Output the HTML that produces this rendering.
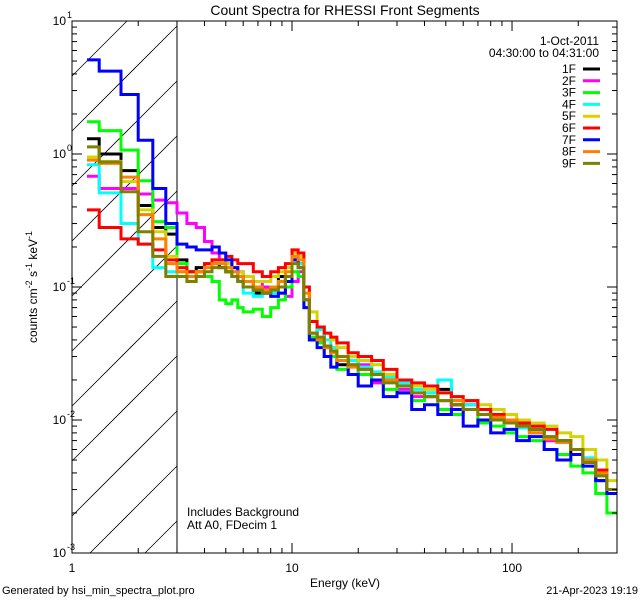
<!DOCTYPE html>
<html><head><meta charset="utf-8"><style>
html,body{margin:0;padding:0;width:640px;height:600px;overflow:hidden;background:#fff}
svg{display:block;font-family:"Liberation Sans",sans-serif}
</style></head><body>
<svg id="c" width="640" height="600" viewBox="0 0 640 600">
<defs><clipPath id="pc"><rect x="72" y="21" width="545" height="532"/></clipPath></defs>
<g id="hatch"></g>
<line x1="177" y1="21" x2="177" y2="553" stroke="#000" stroke-width="1"/>
<g id="series" clip-path="url(#pc)"></g>
<rect x="72" y="21" width="545" height="532" fill="none" stroke="#000"/>
<g id="axes"></g>
<text x="345" y="15" font-size="14" text-anchor="middle">Count Spectra for RHESSI Front Segments</text>
<text x="345" y="587" font-size="12" text-anchor="middle">Energy (keV)</text>
<text transform="translate(37,287) rotate(-90)" font-size="12" text-anchor="middle">counts cm<tspan dy="-5" font-size="9">-2</tspan><tspan dy="5"> s</tspan><tspan dy="-5" font-size="9">-1</tspan><tspan dy="5"> keV</tspan><tspan dy="-5" font-size="9">-1</tspan></text>
<text x="2" y="594" font-size="11">Generated by hsi_min_spectra_plot.pro</text>
<text x="638" y="594" font-size="11" text-anchor="end">21-Apr-2023 19:19</text>
<text x="187" y="516" font-size="12">Includes Background</text>
<text x="187" y="529" font-size="12">Att A0, FDecim 1</text>
<text x="599" y="45" font-size="12" text-anchor="end">1-Oct-2011</text>
<text x="599" y="57" font-size="12" text-anchor="end">04:30:00 to 04:31:00</text>
<g id="legend"></g>
</svg>
<script>
const edges=[1.17,1.33,1.67,2,2.33,2.67,3,3.33,3.67,4,4.33,4.67,5,5.33,5.67,6,6.67,7.33,8,8.67,9.33,10,10.67,11.33,12,13,14,15,16,18,20,23,26,30,35,40,46,53,60,70,80,92,105,120,140,160,185,210,240,270,300];
const names=["1F","2F","3F","4F","5F","6F","7F","8F","9F"];
const colors=["#000000","#ff00ff","#00ff00","#00ffff","#d4d400","#ff0000","#0000ff","#ff8000","#808000"];
const s1=[1.3,1.0,0.75,0.41,0.28,0.25,0.16,0.13,0.14,0.15,0.15,0.14,0.13,0.12,0.11,0.10,0.09,0.09,0.10,0.12,0.12,0.16,0.15,0.08,0.04,0.05,0.036,0.033,0.026,0.03,0.025,0.022,0.02,0.016,0.018,0.015,0.017,0.013,0.014,0.012,0.011,0.01,0.009,0.0085,0.007,0.007,0.0055,0.0048,0.0035,0.003];
const s2=[0.68,0.55,0.55,0.50,0.45,0.43,0.36,0.30,0.28,0.22,0.18,0.16,0.15,0.14,0.13,0.12,0.11,0.10,0.10,0.09,0.085,0.11,0.13,0.08,0.045,0.04,0.035,0.03,0.03,0.022,0.026,0.019,0.02,0.017,0.015,0.016,0.014,0.012,0.013,0.011,0.01,0.0095,0.009,0.008,0.007,0.0068,0.006,0.005,0.0042,0.003];
const s3=[1.75,1.5,1.07,0.63,0.31,0.28,0.15,0.13,0.12,0.12,0.11,0.08,0.075,0.08,0.07,0.065,0.068,0.06,0.07,0.08,0.10,0.13,0.12,0.07,0.042,0.038,0.03,0.03,0.024,0.026,0.022,0.02,0.017,0.019,0.014,0.016,0.012,0.011,0.012,0.0095,0.009,0.008,0.0075,0.007,0.006,0.0055,0.0045,0.004,0.0028,0.002];
const s4=[0.83,0.51,0.30,0.21,0.14,0.13,0.12,0.12,0.13,0.15,0.16,0.15,0.14,0.12,0.11,0.09,0.085,0.09,0.09,0.10,0.12,0.17,0.15,0.08,0.045,0.048,0.04,0.035,0.03,0.028,0.025,0.023,0.021,0.019,0.017,0.016,0.02,0.014,0.013,0.012,0.011,0.0098,0.0087,0.008,0.0075,0.007,0.006,0.0052,0.004,0.003];
const s5=[0.95,0.88,0.62,0.38,0.26,0.17,0.13,0.12,0.13,0.15,0.16,0.16,0.15,0.14,0.13,0.12,0.11,0.11,0.12,0.13,0.14,0.18,0.17,0.10,0.065,0.05,0.045,0.04,0.035,0.03,0.028,0.026,0.022,0.02,0.018,0.017,0.016,0.015,0.014,0.013,0.012,0.011,0.01,0.0095,0.009,0.008,0.0075,0.006,0.005,0.0035];
const s6=[0.38,0.28,0.23,0.21,0.19,0.16,0.14,0.13,0.13,0.15,0.16,0.16,0.17,0.16,0.15,0.15,0.13,0.12,0.13,0.14,0.15,0.19,0.18,0.10,0.055,0.05,0.045,0.042,0.038,0.032,0.03,0.028,0.024,0.02,0.019,0.018,0.016,0.015,0.014,0.012,0.011,0.01,0.0095,0.009,0.0085,0.007,0.006,0.005,0.0042,0.003];
const s7=[5.1,4.2,2.8,1.27,0.55,0.3,0.21,0.20,0.19,0.19,0.20,0.18,0.16,0.14,0.12,0.11,0.10,0.09,0.085,0.09,0.11,0.16,0.14,0.07,0.04,0.035,0.03,0.025,0.028,0.022,0.018,0.02,0.015,0.016,0.012,0.013,0.011,0.012,0.009,0.01,0.008,0.0085,0.007,0.0075,0.006,0.005,0.0055,0.0045,0.0035,0.0028];
const s8=[0.9,0.85,0.67,0.35,0.23,0.15,0.13,0.12,0.13,0.14,0.15,0.15,0.14,0.13,0.12,0.11,0.10,0.095,0.10,0.11,0.13,0.17,0.16,0.09,0.045,0.04,0.035,0.032,0.028,0.025,0.024,0.022,0.02,0.018,0.016,0.015,0.014,0.014,0.012,0.011,0.0105,0.01,0.009,0.008,0.0072,0.0068,0.006,0.005,0.004,0.003];
const s9=[1.13,0.87,0.52,0.26,0.17,0.12,0.12,0.11,0.12,0.13,0.14,0.14,0.13,0.12,0.11,0.10,0.095,0.09,0.095,0.10,0.12,0.15,0.14,0.08,0.045,0.042,0.036,0.033,0.03,0.026,0.024,0.022,0.019,0.018,0.016,0.015,0.014,0.013,0.012,0.011,0.01,0.0095,0.009,0.0085,0.0075,0.007,0.006,0.0048,0.0038,0.003];
const series=[s1,s2,s3,s4,s5,s6,s7,s8,s9];
const xTicks=[1,10,100];
const yTicks=[1,0,-1,-2,-3];

const NS="http://www.w3.org/2000/svg";
const X0=72,X1=617,Y0=21,Y1=553,XMIN=1,XMAX=300,YMIN=-3,YMAX=1;
function xs(v){return X0+(Math.log10(v)-Math.log10(XMIN))/(Math.log10(XMAX)-Math.log10(XMIN))*(X1-X0);}
function ys(v){return Y0+(YMAX-Math.log10(v))/(YMAX-YMIN)*(Y1-Y0);}
function mk(t,a,p){const e=document.createElementNS(NS,t);for(const k in a)e.setAttribute(k,a[k]);p.appendChild(e);return e;}

const hatch=document.getElementById('hatch');
const HX=177;
for(let i=0;i<14;i++){
  const c=Y0+i*55;
  const xa=Math.max(X0,X0+c-Y1), xb=Math.min(HX,X0+c-Y0);
  if(xa>=xb)continue;
  const ln=mk('line',{x1:xa,y1:c-(xa-X0),x2:xb,y2:c-(xb-X0),stroke:'#000','stroke-width':0.8},hatch);
  
  
}

const sg=document.getElementById('series');
series.forEach((vals,si)=>{
  let d='';
  const n=Math.min(vals.length,edges.length-1);
  for(let i=0;i<n;i++){
    const y=Math.min(Y1,Math.max(Y0,ys(vals[i]))).toFixed(1);
    d+=(i===0?'M':'L')+xs(edges[i]).toFixed(1)+','+y+'L'+xs(edges[i+1]).toFixed(1)+','+y;
  }
  const p=mk('path',{d:d,fill:'none',stroke:colors[si],'stroke-width':3,'stroke-linejoin':'miter'},sg);
  
  
});

const ax=document.getElementById('axes');
for(let dec=0;dec<3;dec++){
  for(let m=1;m<10;m++){
    const v=m*Math.pow(10,dec); if(v>XMAX)break;
    const x=xs(v), L=(m===1)?10:5;
    if(m===1&&dec===0)continue;
    mk('line',{x1:x,y1:Y1,x2:x,y2:Y1-L,stroke:'#000'},ax);
    mk('line',{x1:x,y1:Y0,x2:x,y2:Y0+L,stroke:'#000'},ax);
  }
}
xTicks.forEach(v=>{
  const t=mk('text',{x:xs(v),y:572,'font-size':12,'text-anchor':'middle'},ax);
  t.textContent=String(v);
  
  
});
for(let dec=-3;dec<1;dec++){
  for(let m=1;m<10;m++){
    const v=m*Math.pow(10,dec); const y=ys(v), L=(m===1)?10:5;
    if(m===1&&dec===-3)continue;
    mk('line',{x1:X0,y1:y,x2:X0+L,y2:y,stroke:'#000'},ax);
    mk('line',{x1:X1,y1:y,x2:X1-L,y2:y,stroke:'#000'},ax);
  }
}
yTicks.forEach(e=>{
  const t=mk('text',{x:66,y:ys(Math.pow(10,e))+4,'font-size':12,'text-anchor':'end'},ax);
  t.textContent='10';
  
  
  const s=mk('text',{x:67,y:ys(Math.pow(10,e))-3,'font-size':9},ax);
  s.textContent=String(e);
  
  
});

const lg=document.getElementById('legend');
names.forEach((nm,i)=>{
  const y=69+i*11.8;
  const t=mk('text',{x:576,y:y+4,'font-size':12,'text-anchor':'end'},lg);
  t.textContent=nm;
  
  
  const l=mk('line',{x1:583,y1:y,x2:600,y2:y,stroke:colors[i],'stroke-width':3},lg);
  
  
});
</script>
</body></html>
